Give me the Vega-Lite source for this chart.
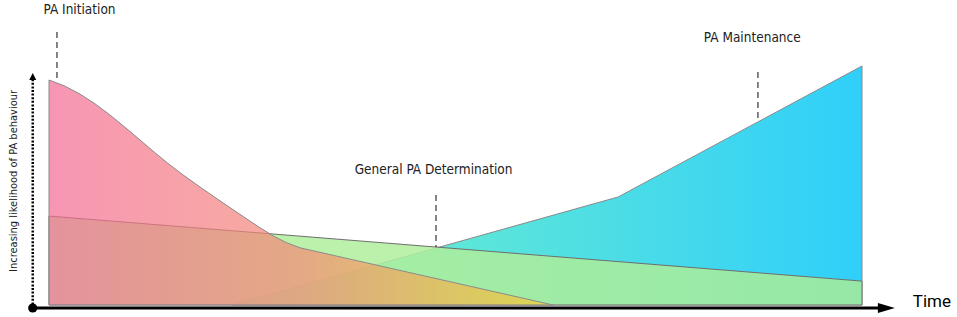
{
  "$schema": "https://vega.github.io/schema/vega-lite/v6.json",
  "width": 813,
  "height": 239,
  "autosize": {"type": "none"},
  "padding": {"left": 49, "right": 95, "top": 66, "bottom": 12},
  "background": "white",
  "config": {"view": {"stroke": null}},
  "datasets": {
    "maintenance": [
      {"t": 22.5, "v": 0},
      {"t": 48.1, "v": 24.3},
      {"t": 70.0, "v": 45.2},
      {"t": 100, "v": 100}
    ],
    "determination": [
      {"t": 0, "v": 37.2},
      {"t": 100, "v": 10.0}
    ],
    "initiation": [
      {"t": 0, "v": 94.14},
      {"t": 1.845, "v": 91.76},
      {"t": 3.690, "v": 88.49},
      {"t": 5.535, "v": 84.48},
      {"t": 7.380, "v": 79.83},
      {"t": 9.225, "v": 74.73},
      {"t": 11.070, "v": 69.41},
      {"t": 12.915, "v": 64.06},
      {"t": 14.760, "v": 58.91},
      {"t": 16.605, "v": 54.14},
      {"t": 18.450, "v": 49.67},
      {"t": 20.295, "v": 45.31},
      {"t": 22.140, "v": 41.05},
      {"t": 23.985, "v": 36.78},
      {"t": 25.830, "v": 32.59},
      {"t": 27.675, "v": 28.70},
      {"t": 29.274, "v": 25.98},
      {"t": 30.873, "v": 23.93},
      {"t": 62.0, "v": 0}
    ],
    "labels": [
      {"t": 3.75, "v": 123.4, "label": "PA Initiation"},
      {"t": 47.3, "v": 56.5, "label": "General PA Determination"},
      {"t": 86.5, "v": 111.7, "label": "PA Maintenance"}
    ],
    "pointers": [
      {"t": 0.98, "v": 114.2, "v2": 93.7},
      {"t": 47.6, "v": 46.0, "v2": 24.3},
      {"t": 87.2, "v": 97.5, "v2": 76.6}
    ],
    "xaxis": [{"t": -2.0, "t2": 102.2, "v": -1.26}],
    "yaxis": [{"t": -2.0, "v": -1.26, "v2": 94.1}],
    "origin": [{"t": -2.0, "v": -1.26}],
    "xarrow": [{"t": 103.0, "v": -1.26}],
    "yarrow": [{"t": -2.0, "v": 95.6}],
    "xtitle": [{"t": 108.6, "v": 1.26, "label": "Time"}],
    "ytitle": [{"t": -4.3, "v": 51.9, "label": "Increasing likelihood of PA behaviour"}]
  },
  "encoding": {
    "x": {"field": "t", "type": "quantitative", "scale": {"domain": [0, 100], "nice": false, "zero": false}, "axis": null},
    "y": {"field": "v", "type": "quantitative", "scale": {"domain": [0, 100], "nice": false, "zero": false}, "axis": null}
  },
  "layer": [
    {
      "data": {"name": "maintenance"},
      "mark": {
        "type": "area",
        "color": {"gradient": "linear", "x1": 0, "x2": 1, "y1": 0, "y2": 0, "stops": [
          {"offset": 0, "color": "#78eec4"},
          {"offset": 0.35, "color": "#5ee6d8"},
          {"offset": 1, "color": "#30cffa"}
        ]},
        "fillOpacity": 1,
        "stroke": "#8a8a8a",
        "strokeWidth": 1
      }
    },
    {
      "data": {"name": "determination"},
      "mark": {
        "type": "area",
        "color": {"gradient": "linear", "x1": 0, "x2": 1, "y1": 0, "y2": 0, "stops": [
          {"offset": 0, "color": "#b4f0a0"},
          {"offset": 1, "color": "#a8ec98"}
        ]},
        "fillOpacity": 0.85,
        "stroke": "#6e6e6e",
        "strokeWidth": 1
      }
    },
    {
      "data": {"name": "initiation"},
      "mark": {
        "type": "area",
        "color": {"gradient": "linear", "x1": 0, "x2": 1, "y1": 0, "y2": 0, "stops": [
          {"offset": 0, "color": "#f46994"},
          {"offset": 0.5, "color": "#f48a74"},
          {"offset": 1, "color": "#f5cf30"}
        ]},
        "fillOpacity": 0.7,
        "stroke": "#8a8a8a",
        "strokeWidth": 1
      }
    },
    {
      "data": {"name": "pointers"},
      "mark": {"type": "rule", "color": "#444", "strokeWidth": 1.3, "strokeDash": [6, 4]},
      "encoding": {"y2": {"field": "v2"}}
    },
    {
      "data": {"name": "labels"},
      "mark": {"type": "text", "font": "DejaVu Sans Condensed, sans-serif", "fontSize": 13.5, "color": "#222", "align": "center", "baseline": "middle"},
      "encoding": {"text": {"field": "label"}}
    },
    {
      "data": {"name": "xaxis"},
      "mark": {"type": "rule", "color": "black", "strokeWidth": 3},
      "encoding": {"x2": {"field": "t2"}}
    },
    {
      "data": {"name": "yaxis"},
      "mark": {"type": "rule", "color": "black", "strokeWidth": 2.5, "strokeDash": [2, 1.6]},
      "encoding": {"y2": {"field": "v2"}}
    },
    {
      "data": {"name": "origin"},
      "mark": {"type": "point", "shape": "circle", "filled": true, "color": "black", "size": 85, "opacity": 1}
    },
    {
      "data": {"name": "xarrow"},
      "mark": {"type": "point", "shape": "M-1,-0.6L1,0L-1,0.6Z", "filled": true, "color": "black", "size": 289, "opacity": 1}
    },
    {
      "data": {"name": "yarrow"},
      "mark": {"type": "point", "shape": "M-1,1L0,-1L1,1Z", "filled": true, "color": "black", "size": 49, "opacity": 1}
    },
    {
      "data": {"name": "xtitle"},
      "mark": {"type": "text", "font": "Roboto, sans-serif", "fontSize": 17, "color": "black", "align": "center", "baseline": "middle"},
      "encoding": {"text": {"field": "label"}}
    },
    {
      "data": {"name": "ytitle"},
      "mark": {"type": "text", "font": "DejaVu Sans Condensed, sans-serif", "fontSize": 11, "color": "#222", "align": "center", "baseline": "middle", "angle": 270},
      "encoding": {"text": {"field": "label"}}
    }
  ]
}
